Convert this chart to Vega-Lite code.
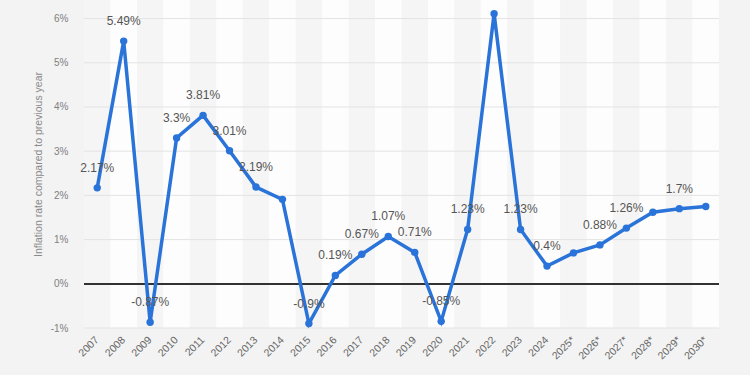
{
  "$schema": "https://vega.github.io/schema/vega-lite/v6.json",
  "autosize": "none",
  "width": 635,
  "height": 328,
  "padding": {"left": 84, "top": 0, "right": 31, "bottom": 47},
  "background": "#f3f3f3",
  "config": {
    "view": {"stroke": null, "fill": "#fafafa"},
    "font": "Liberation Sans"
  },
  "datasets": {
    "grid": [{"g": -1}, {"g": 1}, {"g": 2}, {"g": 3}, {"g": 4}, {"g": 5}, {"g": 6}]
  },
  "data": {
    "values": [
      {"year": "2007", "rate": 2.17, "label": "2.17%"},
      {"year": "2008", "rate": 5.49, "label": "5.49%"},
      {"year": "2009", "rate": -0.87, "label": "-0.87%"},
      {"year": "2010", "rate": 3.3, "label": "3.3%"},
      {"year": "2011", "rate": 3.81, "label": "3.81%"},
      {"year": "2012", "rate": 3.01, "label": "3.01%"},
      {"year": "2013", "rate": 2.19, "label": "2.19%"},
      {"year": "2014", "rate": 1.91, "label": ""},
      {"year": "2015", "rate": -0.9, "label": "-0.9%"},
      {"year": "2016", "rate": 0.19, "label": "0.19%"},
      {"year": "2017", "rate": 0.67, "label": "0.67%"},
      {"year": "2018", "rate": 1.07, "label": "1.07%"},
      {"year": "2019", "rate": 0.71, "label": "0.71%"},
      {"year": "2020", "rate": -0.85, "label": "-0.85%"},
      {"year": "2021", "rate": 1.23, "label": "1.23%"},
      {"year": "2022", "rate": 6.11, "label": ""},
      {"year": "2023", "rate": 1.23, "label": "1.23%"},
      {"year": "2024", "rate": 0.4, "label": "0.4%"},
      {"year": "2025*", "rate": 0.7, "label": ""},
      {"year": "2026*", "rate": 0.88, "label": "0.88%"},
      {"year": "2027*", "rate": 1.26, "label": "1.26%"},
      {"year": "2028*", "rate": 1.62, "label": ""},
      {"year": "2029*", "rate": 1.7, "label": "1.7%"},
      {"year": "2030*", "rate": 1.75, "label": ""}
    ]
  },
  "layer": [
    {
      "transform": [{"window": [{"op": "row_number", "as": "idx"}]}],
      "mark": {"type": "rect"},
      "encoding": {
        "x": {
          "field": "year",
          "type": "ordinal",
          "sort": null,
          "scale": {"type": "band", "paddingInner": 0, "paddingOuter": 0},
          "axis": {
            "title": null,
            "labelAngle": -45,
            "labelAlign": "right",
            "labelBaseline": "middle",
            "labelPadding": 10,
            "labelFontSize": 10.5,
            "labelColor": "#666666",
            "ticks": false,
            "domain": false,
            "grid": false
          }
        },
        "color": {
          "condition": {"test": "datum.idx % 2 === 1", "value": "#f5f5f5"},
          "value": "#fdfdfd"
        }
      }
    },
    {
      "data": {"name": "grid"},
      "mark": {"type": "rule", "color": "#e3e3e3", "strokeWidth": 1},
      "encoding": {"y": {"field": "g", "type": "quantitative"}}
    },
    {
      "mark": {"type": "rule", "color": "#333333", "strokeWidth": 1.2},
      "encoding": {"y": {"datum": 0, "type": "quantitative"}}
    },
    {
      "mark": {"type": "line", "color": "#2a73d9", "strokeWidth": 3.5, "point": {"filled": true, "size": 55, "color": "#2a73d9"}},
      "encoding": {
        "x": {"field": "year", "type": "ordinal", "sort": null},
        "y": {
          "field": "rate",
          "type": "quantitative",
          "scale": {"domain": [-1, 6.42], "nice": false, "zero": false},
          "axis": {
            "title": "Inflation rate compared to previous year",
            "titleFontSize": 10.5,
            "titleFontWeight": "normal",
            "titleColor": "#8a8a8a",
            "titlePadding": 7,
            "values": [-1, 0, 1, 2, 3, 4, 5, 6],
            "labelExpr": "datum.value + '%'",
            "labelFontSize": 10,
            "labelColor": "#808080",
            "labelPadding": 16,
            "ticks": false,
            "domain": false,
            "grid": false
          }
        }
      }
    },
    {
      "mark": {"type": "text", "dy": -20, "fontSize": 12, "color": "#555555"},
      "encoding": {
        "x": {"field": "year", "type": "ordinal", "sort": null},
        "y": {"field": "rate", "type": "quantitative"},
        "text": {"field": "label"}
      }
    }
  ]
}
